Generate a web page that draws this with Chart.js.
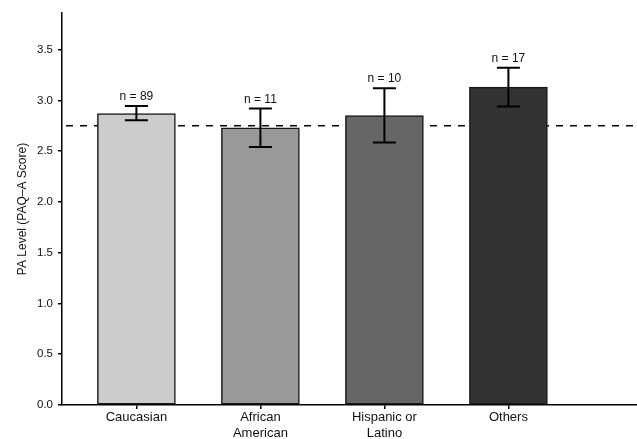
<!DOCTYPE html>
<html>
<head>
<meta charset="utf-8">
<script src="https://cdn.jsdelivr.net/npm/chart.js@4"></script>
<style>
  html, body { margin: 0; padding: 0; background: #fff; }
  #wrap { width: 637px; height: 439px; }
</style>
</head>
<body>
<div id="wrap"><canvas id="c" width="637" height="439"></canvas></div>
<script>
const categories = [["Caucasian"], ["African", "American"], ["Hispanic or", "Latino"], ["Others"]];
const positions = [1, 2, 3, 4];
const means = [2.87, 2.73, 2.85, 3.13];
const errLow = [2.805, 2.54, 2.585, 2.94];
const errHigh = [2.945, 2.92, 3.12, 3.32];
const nLabels = ["n = 89", "n = 11", "n = 10", "n = 17"];
const barColors = ["#cccccc", "#999999", "#666666", "#333333"];
const referenceLine = 2.75;
const yTicks = [0, 0.5, 1.0, 1.5, 2.0, 2.5, 3.0, 3.5];

const FONT = "'Liberation Sans', Arial, sans-serif";

const overlay = {
  id: 'overlay',
  beforeDatasetsDraw(chart) {
    const {ctx, chartArea, scales: {y}} = chart;
    const py = y.getPixelForValue(referenceLine);
    ctx.save();
    ctx.strokeStyle = '#000';
    ctx.lineWidth = 1.5;
    ctx.setLineDash([7, 7]);
    ctx.beginPath();
    ctx.moveTo(chartArea.left + 4, py);
    ctx.lineTo(chartArea.right, py);
    ctx.stroke();
    ctx.restore();
  },
  afterDatasetsDraw(chart) {
    const {ctx, scales: {x, y}} = chart;
    ctx.save();
    ctx.strokeStyle = '#000';
    ctx.lineWidth = 2;
    ctx.fillStyle = '#111';
    ctx.font = "12px " + FONT;
    ctx.textAlign = 'center';
    ctx.textBaseline = 'bottom';
    const cap = 11.5;
    positions.forEach((p, i) => {
      const px = x.getPixelForValue(p);
      const lo = y.getPixelForValue(errLow[i]);
      const hi = y.getPixelForValue(errHigh[i]);
      ctx.beginPath();
      ctx.moveTo(px, lo); ctx.lineTo(px, hi);
      ctx.moveTo(px - cap, lo); ctx.lineTo(px + cap, lo);
      ctx.moveTo(px - cap, hi); ctx.lineTo(px + cap, hi);
      ctx.stroke();
      ctx.fillText(nLabels[i], px, hi - 3);
    });
    ctx.restore();
  }
};

new Chart(document.getElementById('c'), {
  type: 'bar',
  data: {
    datasets: [{
      data: positions.map((p, i) => ({x: p, y: means[i]})),
      backgroundColor: barColors,
      borderColor: '#1a1a1a',
      borderWidth: 1.5,
      borderSkipped: false,
      barThickness: 78
    }]
  },
  options: {
    responsive: false,
    animation: false,
    devicePixelRatio: 1,
    layout: { padding: { top: 13, right: 0, left: 0, bottom: 0 } },
    plugins: { legend: { display: false }, tooltip: { enabled: false } },
    scales: {
      x: {
        type: 'linear',
        min: 0.4,
        max: 5.037,
        offset: false,
        afterBuildTicks: (s) => { s.ticks = positions.map(v => ({value: v})); },
        afterFit: (s) => { s.height = 34; },
        ticks: {
          autoSkip: false,
          maxRotation: 0,
          padding: 1,
          color: '#111',
          font: { family: FONT, size: 13 },
          callback: (v) => { const i = positions.indexOf(v); return i >= 0 ? categories[i] : ''; }
        },
        grid: { display: true, offset: false, drawOnChartArea: false, drawTicks: true, tickLength: 4, color: '#000', lineWidth: 1.5 },
        border: { display: true, color: '#000', width: 1.5 }
      },
      y: {
        type: 'linear',
        min: 0,
        max: 3.86,
        afterBuildTicks: (s) => { s.ticks = yTicks.map(v => ({value: v})); },
        afterFit: (s) => { s.width = 62; },
        ticks: {
          padding: 5,
          color: '#111',
          font: { family: FONT, size: 11.5 },
          callback: (v) => Number(v).toFixed(1)
        },
        grid: { display: true, drawOnChartArea: false, drawTicks: true, tickLength: 4, color: '#000', lineWidth: 1.5 },
        border: { display: true, color: '#000', width: 1.5 },
        title: {
          display: true,
          text: 'PA Level (PAQ–A Score)',
          color: '#111',
          font: { family: FONT, size: 12 },
          padding: { top: 15, bottom: 0 }
        }
      }
    }
  },
  plugins: [overlay]
});
</script>
</body>
</html>
